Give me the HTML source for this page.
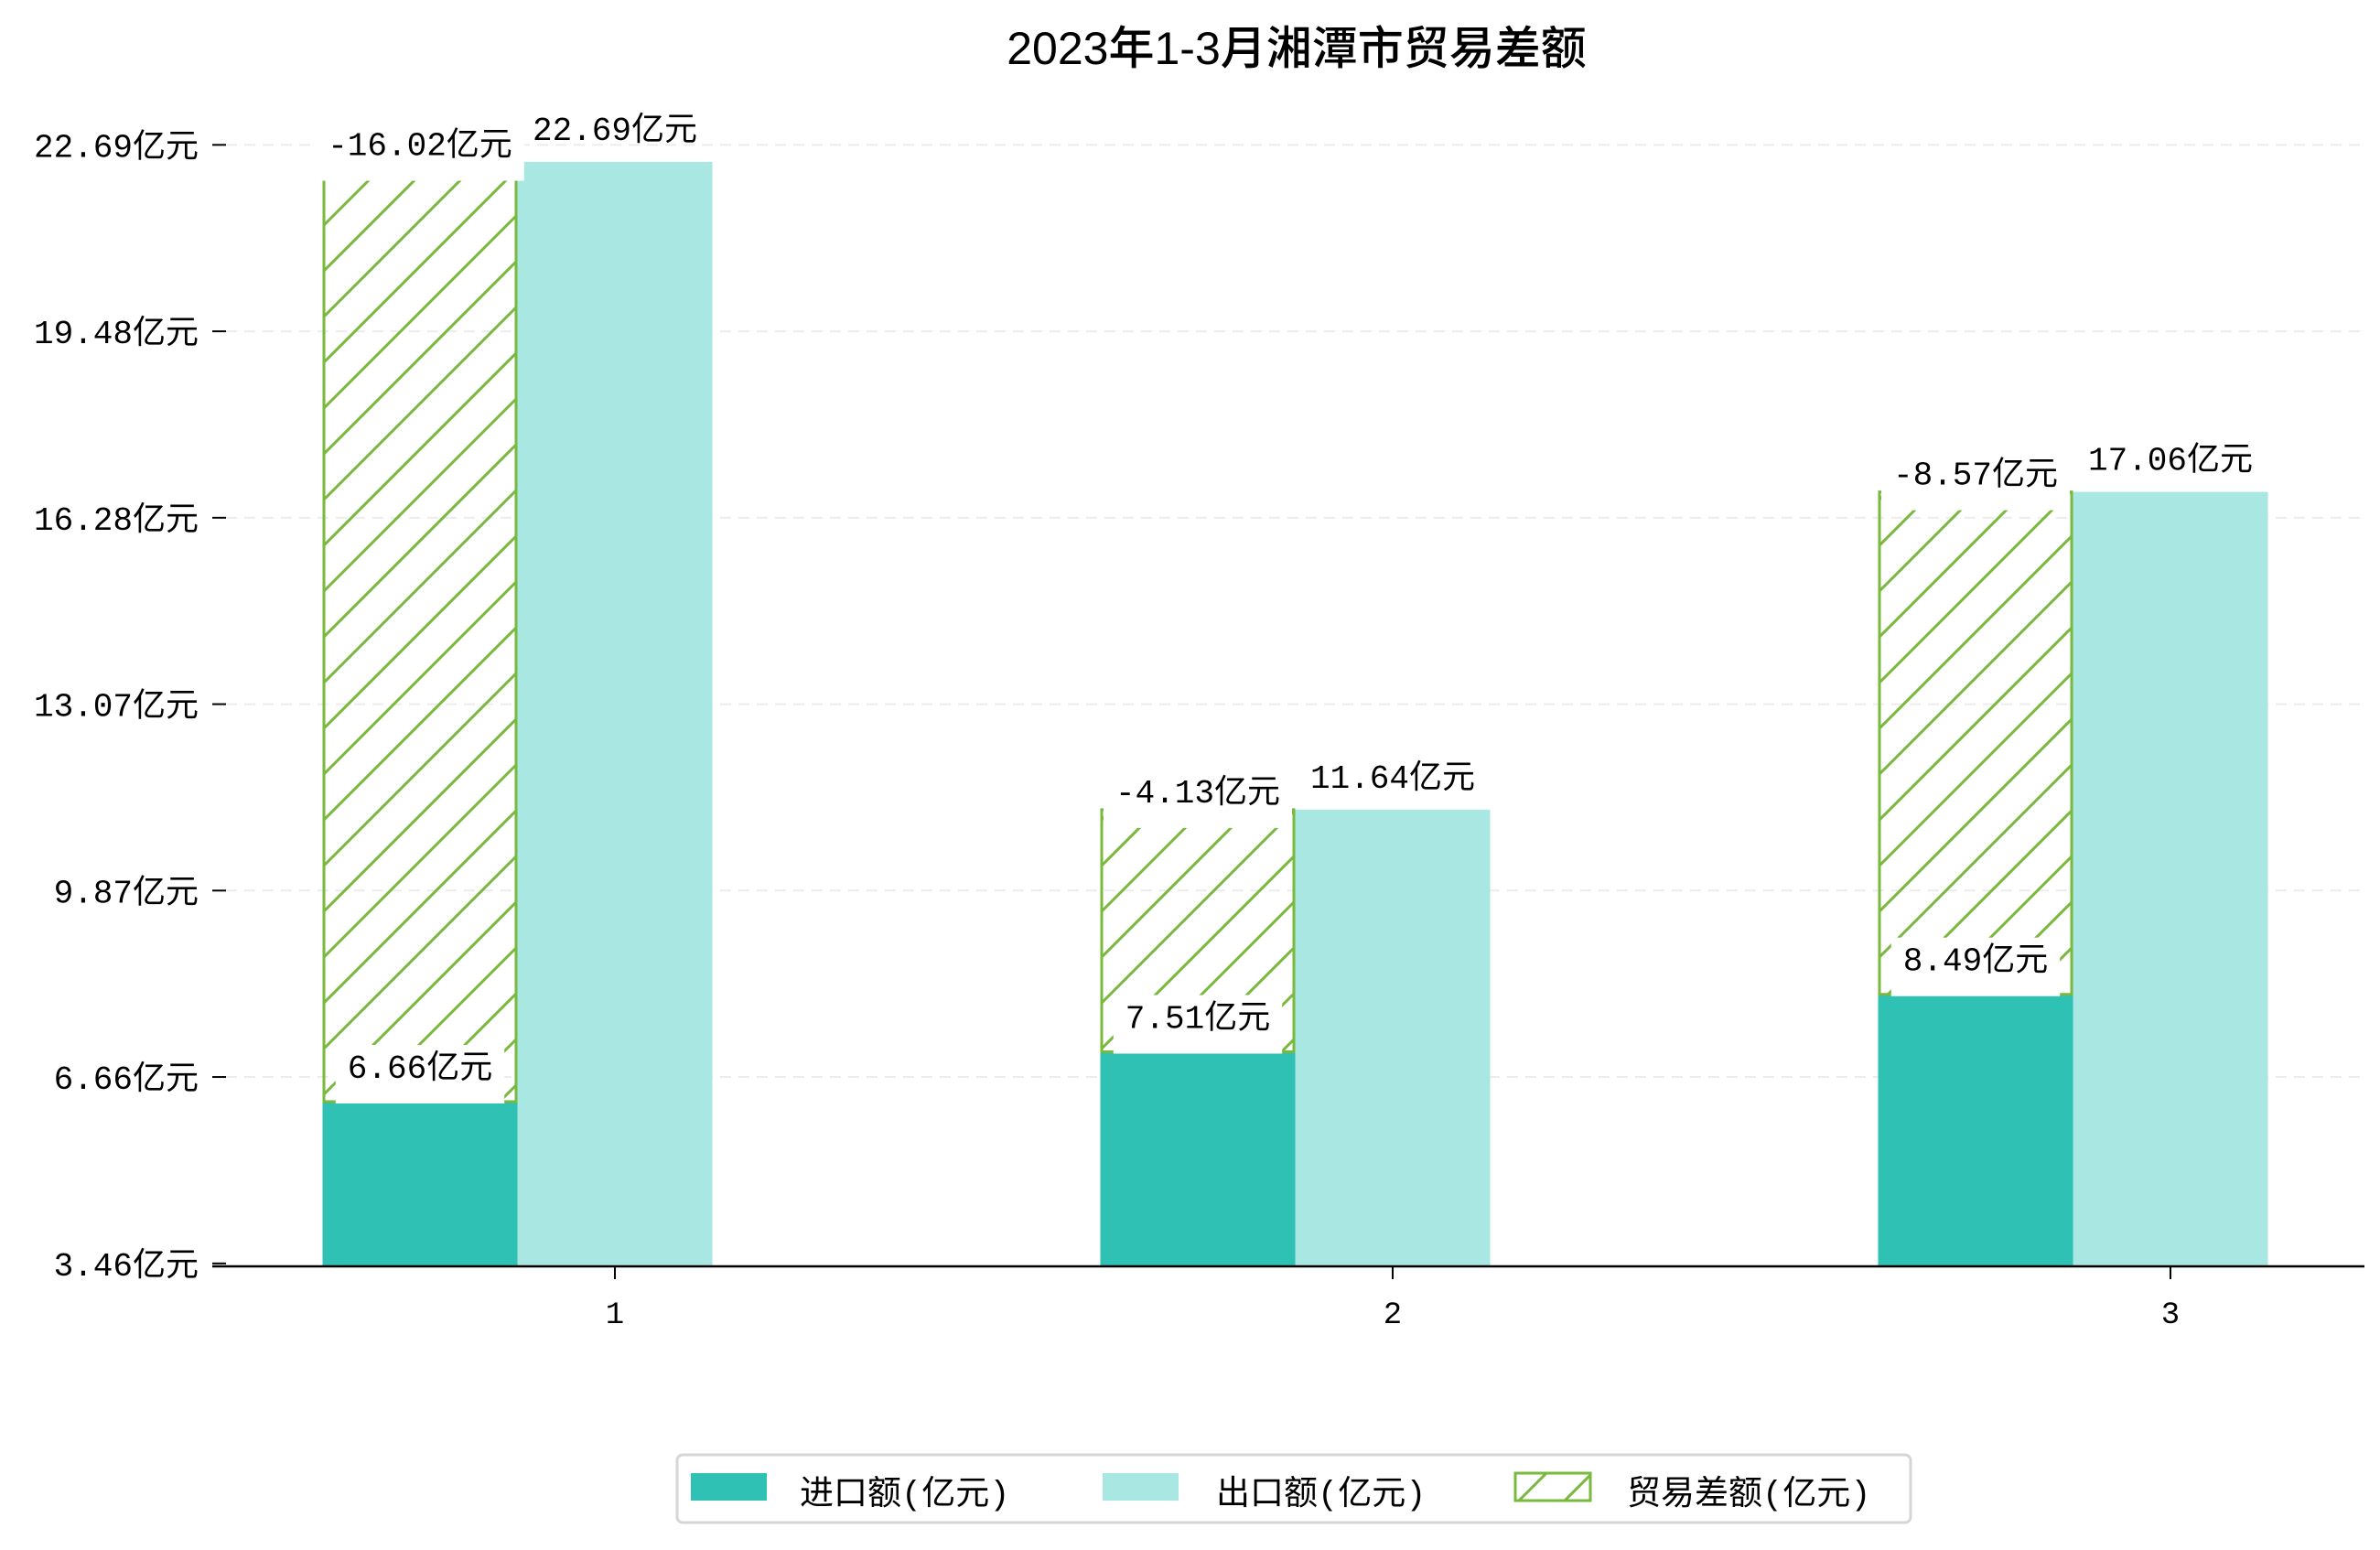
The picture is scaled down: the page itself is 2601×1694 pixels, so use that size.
<!DOCTYPE html>
<html><head><meta charset="utf-8">
<style>
html,body{margin:0;padding:0;background:#fff;}
svg text{font-family:"Liberation Mono","Noto Sans CJK SC",monospace;}
</style></head>
<body>
<svg id="chart" xmlns="http://www.w3.org/2000/svg" width="2601" height="1689" viewBox="0 0 2601 1689">
<defs>
<pattern id="hatch" patternUnits="userSpaceOnUse" width="50" height="50">
<line x1="-5" y1="55" x2="55" y2="-5" stroke="#78b93e" stroke-width="3"/>
<line x1="-30" y1="30" x2="30" y2="-30" stroke="#78b93e" stroke-width="3"/>
<line x1="20" y1="80" x2="80" y2="20" stroke="#78b93e" stroke-width="3"/>
</pattern>
</defs>
<rect width="2601" height="1689" fill="#fff"/>
<text x="1417" y="70" font-size="50" text-anchor="middle" fill="#000" style="font-family:'Liberation Sans','Noto Sans CJK SC',sans-serif;font-weight:500">2023年1-3月湘潭市贸易差额</text>
<g id="grid"></g>
<g id="bars"></g>
<g id="labels"></g>
<g id="axes"></g>
<g>
<rect x="740" y="1590" width="1348" height="74" rx="6" fill="#fff" stroke="#d6d6d6" stroke-width="3"/>
<rect x="755" y="1610" width="83" height="30" fill="#2fc1b3"/>
<text x="874" y="1644" font-size="37">进口额(亿元)</text>
<rect x="1205" y="1610" width="83" height="30" fill="#a9e7e2"/>
<text x="1329" y="1644" font-size="37">出口额(亿元)</text>
<rect x="1656" y="1610" width="82" height="30" fill="url(#hatch)" stroke="#78b93e" stroke-width="3"/>
<text x="1778" y="1644" font-size="37">贸易差额(亿元)</text>
</g>
</svg>
<script>
const categories = ["1", "2", "3"];
const imports = [6.66, 7.51, 8.49];
const exports = [22.69, 11.64, 17.06];
const balances = [-16.02, -4.13, -8.57];
const tickLabels = ["3.46亿元", "6.66亿元", "9.87亿元", "13.07亿元", "16.28亿元", "19.48亿元", "22.69亿元"];

const NS = "http://www.w3.org/2000/svg";
const Y_BASE = 1384, V_MIN = 3.85, K = 64.07;
function y(v){ return Y_BASE - (v - V_MIN) * K; }
const X0 = 672, DX = 850, BW = 213;
function xc(i){ return X0 + i * DX; }
const TICK_LO = 3.90, TICK_HI = 22.98;
function mk(tag, attrs, parent){
  const e = document.createElementNS(NS, tag);
  for (const k in attrs) e.setAttribute(k, attrs[k]);
  parent.appendChild(e);
  return e;
}
const grid = document.getElementById('grid');
const bars = document.getElementById('bars');
const labels = document.getElementById('labels');
const axes = document.getElementById('axes');

tickLabels.forEach((t, i) => {
  const ty = y(TICK_LO + i * (TICK_HI - TICK_LO) / (tickLabels.length - 1));
  if (i > 0) {
    const g = mk('line', {x1: 247, x2: 2584, y1: ty, y2: ty, stroke: '#ececec', 'stroke-width': 2, 'stroke-dasharray': '12,8'}, grid);
    
    
  }
  const tk = mk('line', {x1: 232, x2: 247, y1: ty, y2: ty, stroke: '#000', 'stroke-width': 2}, axes);
  
  
  const tl = mk('text', {x: 217, y: ty + 13, 'font-size': 36, 'text-anchor': 'end'}, axes);
  tl.textContent = t;
  
  
});

function labelBox(text, cx, cy, w){
  const r = mk('rect', {x: cx - w / 2, y: cy - 32, width: w, height: 64, fill: '#fff'}, labels);
  
  
  const t = mk('text', {x: cx, y: cy + 4, 'font-size': 36, 'text-anchor': 'middle'}, labels);
  t.textContent = text;
  
  
}
function textW(s){ let w = 0; for (const ch of s) w += ch.charCodeAt(0) > 255 ? 36 : 21.6; return w; }

categories.forEach((c, i) => {
  const ex = xc(i), ix = xc(i) - BW;
  const imp = mk('rect', {x: ix - BW / 2, y: y(imports[i]), width: BW, height: Y_BASE - y(imports[i]), fill: '#2fc1b3'}, bars);
  
  
  const exb = mk('rect', {x: ex - BW / 2, y: y(exports[i]), width: BW, height: Y_BASE - y(exports[i]), fill: '#a9e7e2'}, bars);
  
  
  const top = imports[i] + Math.abs(balances[i]);
  const hb = mk('rect', {x: ix - BW / 2 + 1.5, y: y(top), width: BW - 3, height: y(imports[i]) - y(top), fill: 'url(#hatch)', stroke: '#78b93e', 'stroke-width': 3}, bars);
  
  

  const bt = balances[i].toFixed(2) + '亿元';
  labelBox(bt, ix, y(top) - 12, textW(bt) + 26);
  const it = imports[i].toFixed(2) + '亿元';
  labelBox(it, ix, y(imports[i]) - 30, textW(it) + 26);
  const et = mk('text', {x: ex, y: y(exports[i]) - 24, 'font-size': 36, 'text-anchor': 'middle'}, labels);
  et.textContent = exports[i].toFixed(2) + '亿元';
  
  

  const xt = mk('line', {x1: ex, x2: ex, y1: Y_BASE, y2: Y_BASE + 14, stroke: '#000', 'stroke-width': 2}, axes);
  
  
  const xl = mk('text', {x: ex, y: Y_BASE + 62, 'font-size': 34, 'text-anchor': 'middle'}, axes);
  xl.textContent = c;
  
  
});
const ax = mk('line', {x1: 232, x2: 2584, y1: Y_BASE, y2: Y_BASE, stroke: '#000', 'stroke-width': 2.5}, axes);


</script>
</body></html>
